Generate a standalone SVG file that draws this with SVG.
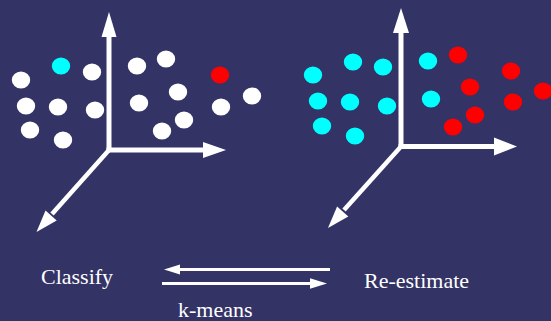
<svg xmlns="http://www.w3.org/2000/svg" width="551" height="321" viewBox="0 0 551 321">
  <style>
    .axis { stroke: #ffffff; stroke-width: 5; fill: none; }
    .diag { stroke: #ffffff; stroke-width: 4.5; fill: none; }
    .head { fill: #ffffff; }
    .w { fill: #ffffff; }
    .c { fill: #00ffff; }
    .r { fill: #ff0000; }
    .flow { stroke: #ffffff; stroke-width: 3; fill: none; }
    .lbl { font-family: "Liberation Serif", "Times New Roman", serif; font-size: 22px; fill: #ffffff; }
  </style>
  <defs>
    <ellipse id="dot" cx="0" cy="0" rx="9.2" ry="8.6"/>
  </defs>
  <rect width="551" height="321" fill="#333366"/>

  <!-- Left plot: unlabelled data -->
  <g id="plot-classify">
    <g id="axes-left">
      <line class="axis" x1="109" y1="152" x2="109" y2="35"/>
      <polygon class="head" points="109,12 101.5,37 116.5,37"/>
      <line class="axis" x1="106.5" y1="150" x2="204" y2="150"/>
      <polygon class="head" points="226,150 203,142 203,158"/>
      <line class="diag" x1="109" y1="150" x2="52" y2="214"/>
      <polygon class="head" points="36.5,232 56.7,220.5 45.5,210.5"/>
    </g>
    <g id="points-left">
      <use href="#dot" class="w" x="21" y="80"/>
      <use href="#dot" class="c" x="61" y="66"/>
      <use href="#dot" class="w" x="92" y="72"/>
      <use href="#dot" class="w" x="26" y="106"/>
      <use href="#dot" class="w" x="58" y="107"/>
      <use href="#dot" class="w" x="95" y="110"/>
      <use href="#dot" class="w" x="30" y="130"/>
      <use href="#dot" class="w" x="63" y="140"/>
      <use href="#dot" class="w" x="137" y="66"/>
      <use href="#dot" class="w" x="166" y="59"/>
      <use href="#dot" class="w" x="178" y="92"/>
      <use href="#dot" class="w" x="139" y="103"/>
      <use href="#dot" class="w" x="184" y="120"/>
      <use href="#dot" class="w" x="162" y="131"/>
      <use href="#dot" class="r" x="220" y="75"/>
      <use href="#dot" class="w" x="221" y="107"/>
      <use href="#dot" class="w" x="252" y="96"/>
    </g>
  </g>

  <!-- Right plot: points assigned to two clusters -->
  <g id="plot-reestimate">
    <g id="axes-right">
      <line class="axis" x1="401" y1="148.5" x2="401" y2="31"/>
      <polygon class="head" points="401,8 393,33 409,33"/>
      <line class="axis" x1="398.5" y1="146.5" x2="495" y2="146.5"/>
      <polygon class="head" points="517,146.5 494,137.5 494,155.5"/>
      <line class="diag" x1="401" y1="146.5" x2="344" y2="210"/>
      <polygon class="head" points="328,228 348.3,216.6 337.1,206.6"/>
    </g>
    <g id="points-right">
      <use href="#dot" class="c" x="313" y="75"/>
      <use href="#dot" class="c" x="353" y="62"/>
      <use href="#dot" class="c" x="383" y="67"/>
      <use href="#dot" class="c" x="318" y="101"/>
      <use href="#dot" class="c" x="350" y="102"/>
      <use href="#dot" class="c" x="387" y="106"/>
      <use href="#dot" class="c" x="322" y="126"/>
      <use href="#dot" class="c" x="355" y="136"/>
      <use href="#dot" class="c" x="428" y="61"/>
      <use href="#dot" class="c" x="431" y="99"/>
      <use href="#dot" class="r" x="458" y="55"/>
      <use href="#dot" class="r" x="511" y="71"/>
      <use href="#dot" class="r" x="470" y="87"/>
      <use href="#dot" class="r" x="543" y="91"/>
      <use href="#dot" class="r" x="513" y="102"/>
      <use href="#dot" class="r" x="475" y="115"/>
      <use href="#dot" class="r" x="453" y="127"/>
    </g>
  </g>

  <!-- Iteration loop between the two steps -->
  <g id="node-classify"><text class="lbl" x="41" y="284">Classify</text></g>
  <g id="node-reestimate"><text class="lbl" x="364" y="288">Re-estimate</text></g>
  <g id="connectors">
    <line class="flow" x1="330" y1="269.5" x2="178" y2="269.5"/>
    <polygon class="head" points="164,269.5 180,264.5 180,274.5"/>
    <line class="flow" x1="162" y1="283.5" x2="312" y2="283.5"/>
    <polygon class="head" points="327,283.5 310,278.3 310,288.7"/>
  </g>
  <text class="lbl" x="178" y="317">k-means</text>
</svg>
